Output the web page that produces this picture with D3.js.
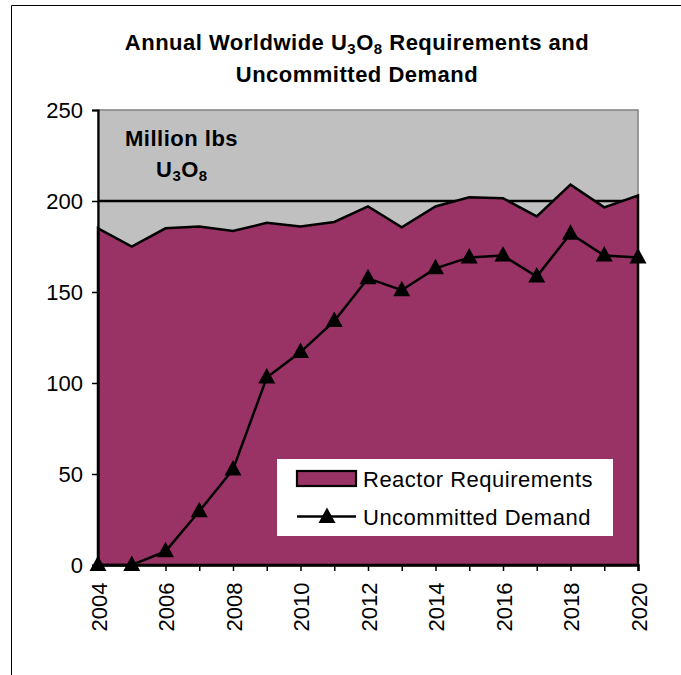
<!DOCTYPE html>
<html>
<head>
<meta charset="utf-8">
<script src="https://cdn.jsdelivr.net/npm/d3@7"></script>
<style>
  html, body { margin: 0; padding: 0; background: #fff; }
  svg { display: block; font-family: "Liberation Sans", Arial, sans-serif; }
</style>
</head>
<body>
<svg id="chart" width="681" height="675"></svg>
<script>
const years = [2004,2005,2006,2007,2008,2009,2010,2011,2012,2013,2014,2015,2016,2017,2018,2019,2020];
const reactorRequirements = [185,175,185,186,183.5,188,186,188.5,197,185.5,197,202,201.5,191.5,209,196.5,203];
const uncommittedDemand = [0,0,7.5,29.5,52.5,103,117,134,157.5,151,163,169,170,158.5,182,170,169];
const yTicks = [0,50,100,150,200,250];
const xLabelYears = [2004,2006,2008,2010,2012,2014,2016,2018,2020];
const seriesNames = ["Reactor Requirements","Uncommitted Demand"];

(function(){
const svg = d3.select("#chart");
const pL = 98, pR = 638, pT = 110, pB = 565;
const FS = "22px", LS = "0.5px";

const x = d3.scaleLinear().domain([2004,2020]).range([pL,pR]);
const y = d3.scaleLinear().domain([0,250]).range([pB,pT]);

// outer chart border (top and left)
svg.append("line").attr("x1",11.5).attr("x2",681).attr("y1",5.5).attr("y2",5.5).attr("stroke","#000").attr("stroke-width",1);
svg.append("line").attr("x1",11.5).attr("x2",11.5).attr("y1",5.5).attr("y2",675).attr("stroke","#000").attr("stroke-width",1);

// plot background
svg.append("rect").attr("x",pL).attr("y",pT).attr("width",pR-pL).attr("height",pB-pT)
  .attr("fill","#C0C0C0").attr("stroke","#808080").attr("stroke-width",1.5);

// gridlines
svg.append("g").selectAll("line").data(yTicks.filter(d=>d>0 && d<250)).join("line")
  .attr("x1",pL).attr("x2",pR).attr("y1",d=>y(d)).attr("y2",d=>y(d))
  .attr("stroke","#000").attr("stroke-width",2.3);

// area
const data = years.map((yr,i)=>({yr, r:reactorRequirements[i], u:uncommittedDemand[i]}));
const area = d3.area().x(d=>x(d.yr)).y0(y(0)).y1(d=>y(d.r));
svg.append("path").datum(data).attr("d",area)
  .attr("fill","#993366").attr("stroke","#000").attr("stroke-width",2.5).attr("stroke-linejoin","miter");

// line
const line = d3.line().x(d=>x(d.yr)).y(d=>y(d.u));
svg.append("path").datum(data).attr("d",line).attr("fill","none").attr("stroke","#000").attr("stroke-width",2.5);

const tri = "M0,-9.5L8.5,6L-8.5,6Z";
svg.append("g").selectAll("path").data(data).join("path")
  .attr("d",tri).attr("transform",d=>`translate(${x(d.yr)},${y(d.u)})`).attr("fill","#000");

// y axis
const yAxis = svg.append("g").attr("transform",`translate(${pL},0)`)
  .call(d3.axisLeft(y).tickValues(yTicks).tickSize(6).tickPadding(9).tickFormat(d3.format("d")));
yAxis.select(".domain").attr("stroke","#000").attr("stroke-width",2.2);
yAxis.selectAll(".tick line").attr("stroke","#000").attr("stroke-width",1.5);
yAxis.selectAll("text").attr("font-size",FS).attr("fill","#000").attr("font-family","'Liberation Sans', Arial, sans-serif");

// x axis
const xAxis = svg.append("g").attr("transform",`translate(0,${pB})`)
  .call(d3.axisBottom(x).tickValues(years).tickSize(6).tickFormat(d=> xLabelYears.includes(d) ? String(d) : ""));
xAxis.select(".domain").attr("stroke","#000").attr("stroke-width",2.5);
xAxis.selectAll(".tick line").attr("stroke","#000").attr("stroke-width",1.5);
xAxis.selectAll("text")
  .attr("font-size",FS).attr("fill","#000").attr("font-family","'Liberation Sans', Arial, sans-serif")
  .attr("transform","rotate(-90)").attr("text-anchor","end")
  .attr("x",-17.5).attr("y",0.7).attr("dy","0.35em");

// title
const title = svg.append("text").attr("x",357).attr("y",49.5).attr("text-anchor","middle")
  .attr("font-size",FS).attr("letter-spacing",LS).attr("font-weight","bold").attr("fill","#000");
title.append("tspan").text("Annual Worldwide U");
title.append("tspan").attr("font-size","15px").attr("dy",4).text("3");
title.append("tspan").attr("dy",-4).text("O");
title.append("tspan").attr("font-size","15px").attr("dy",4).text("8");
title.append("tspan").attr("dy",-4).text(" Requirements and");
svg.append("text").attr("x",357).attr("y",82).attr("text-anchor","middle")
  .attr("font-size",FS).attr("letter-spacing",LS).attr("font-weight","bold").attr("fill","#000").text("Uncommitted Demand");

// unit label
svg.append("text").attr("x",125).attr("y",146).attr("font-size",FS).attr("letter-spacing",LS).attr("font-weight","bold").attr("fill","#000").text("Million lbs");
const u = svg.append("text").attr("x",156).attr("y",177).attr("font-size",FS).attr("letter-spacing",LS).attr("font-weight","bold").attr("fill","#000");
u.append("tspan").text("U");
u.append("tspan").attr("font-size","15px").attr("dy",4).text("3");
u.append("tspan").attr("dy",-4).text("O");
u.append("tspan").attr("font-size","15px").attr("dy",4).text("8");

// legend
const lg = svg.append("g");
lg.append("rect").attr("x",277).attr("y",459).attr("width",336).attr("height",77).attr("fill","#fff");
lg.append("rect").attr("x",297).attr("y",471).attr("width",59).attr("height",15).attr("fill","#993366").attr("stroke","#000").attr("stroke-width",2.2);
lg.append("text").attr("x",363).attr("y",486.5).attr("font-size",FS).attr("letter-spacing",LS).attr("fill","#000").text(seriesNames[0]);
lg.append("line").attr("x1",297).attr("x2",356).attr("y1",516.5).attr("y2",516.5).attr("stroke","#000").attr("stroke-width",2.5);
lg.append("path").attr("d",tri).attr("transform","translate(327,517)").attr("fill","#000");
lg.append("text").attr("x",363).attr("y",524.5).attr("font-size",FS).attr("letter-spacing",LS).attr("fill","#000").text(seriesNames[1]);
})();
</script>
</body>
</html>
